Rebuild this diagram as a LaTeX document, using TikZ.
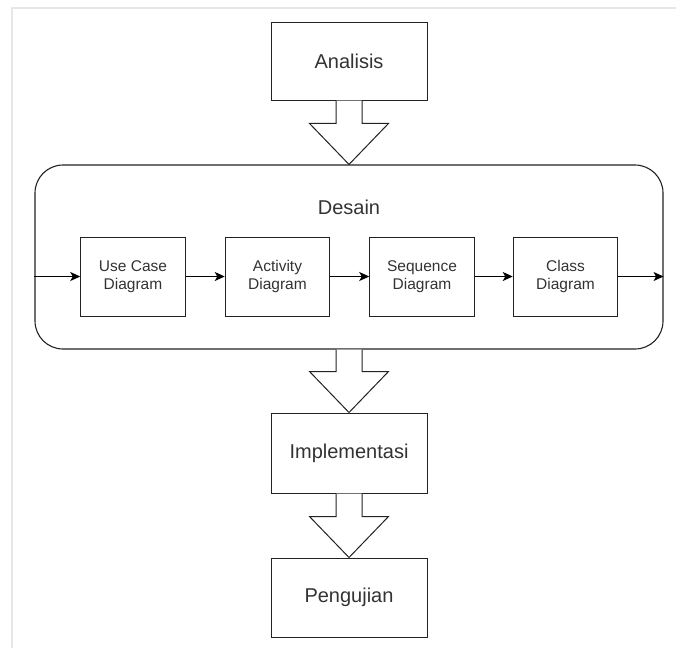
\documentclass[tikz,border=0pt]{standalone}
\usepackage{fontspec}
\setmainfont{Liberation Sans}
\usetikzlibrary{arrows.meta,calc}
\definecolor{txt}{HTML}{333333}
\definecolor{edge}{HTML}{222222}
\definecolor{frame}{HTML}{E6E6E6}
\tikzset{
  box/.style={draw=edge, line width=1pt, fill=white, inner sep=0pt, text=txt},
  bigbox/.style={box, minimum width=156pt, font=\fontsize{20}{24}\selectfont},
  smallbox/.style={box, minimum width=104.5pt, minimum height=79pt, align=center, font=\fontsize{15.5}{18.3}\selectfont},
  container/.style={draw=edge, line width=1.1pt, rounded corners=28pt, minimum width=628pt, minimum height=184pt, inner sep=0pt},
  flow/.style={draw=black, line width=1.3pt, -{Stealth[length=10pt,width=9pt,inset=2.5pt]}},
  blockarrow/.style={draw=edge, line width=1pt, fill=white, line join=miter},
}
\newcommand\blockarr[2]{%
  \draw[blockarrow] ($(#1.south)+(-13,0)$) -- ($(#2.north)+(-13,-41)$) -- ($(#2.north)+(-39.5,-41)$)
    -- (#2.north) -- ($(#2.north)+(39.5,-41)$) -- ($(#2.north)+(13,-41)$) -- ($(#1.south)+(13,0)$);}
\begin{document}
\begin{tikzpicture}[x=1pt,y=-1pt]
\useasboundingbox (0,0) rectangle (676,648);
\draw[frame, line width=2pt] (676,7.5) -- (11.5,7.5) -- (11.5,648);

\node[bigbox, minimum height=78pt] (ana) at (349,61) {Analisis};
\node[container] (des) at (349,257) {};
\node[text=txt, font=\fontsize{20}{24}\selectfont] (deslbl) at (349,207) {Desain};
\node[smallbox] (uc) at (133,276.5) {Use Case\\Diagram};
\node[smallbox] (act) at (277.5,276.5) {Activity\\Diagram};
\node[smallbox] (seq) at (422,276.5) {Sequence\\Diagram};
\node[smallbox] (cls) at (565.5,276.5) {Class\\Diagram};
\node[bigbox, minimum height=80pt] (impl) at (349,453) {Implementasi};
\node[bigbox, minimum height=79pt] (peng) at (349,597.5) {Pengujian};

\coordinate (inL) at (des.west |- uc.west);
\coordinate (outR) at (des.east |- cls.east);
\draw[flow] (inL) -- (uc.west);
\draw[flow] (uc.east) -- (act.west);
\draw[flow] (act.east) -- (seq.west);
\draw[flow] (seq.east) -- (cls.west);
\draw[flow] (cls.east) -- (outR);

\blockarr{ana}{des}
\blockarr{des}{impl}
\blockarr{impl}{peng}
\end{tikzpicture}
\end{document}
